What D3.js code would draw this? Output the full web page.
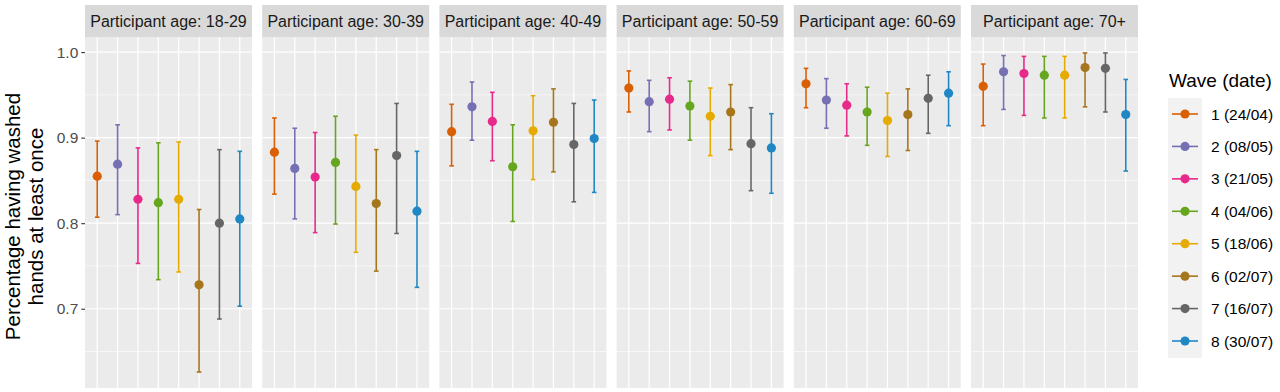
<!DOCTYPE html>
<html><head><meta charset="utf-8">
<script src="https://cdn.jsdelivr.net/npm/d3@7"></script>
<style>body{margin:0;background:#fff;}svg{display:block;font-family:"Liberation Sans",Arial,sans-serif;}</style>
</head><body>
<svg id="chart" width="1280" height="392"></svg>
<script>
const ageGroups = ["18-29","30-39","40-49","50-59","60-69","70+"];
const waves = ["1 (24/04)","2 (08/05)","3 (21/05)","4 (04/06)","5 (18/06)","6 (02/07)","7 (16/07)","8 (30/07)"];
const colors = ["#D95F02","#7570B3","#E7298A","#66A61E","#E6AB02","#A6761D","#666666","#1F87C3"];
const yTicks = [0.7,0.8,0.9,1.0];
// estimates per age group, one value per wave
const est = [
  [0.855,0.869,0.828,0.824,0.828,0.728,0.800,0.805],
  [0.883,0.864,0.854,0.871,0.843,0.823,0.879,0.814],
  [0.907,0.936,0.919,0.866,0.908,0.918,0.892,0.899],
  [0.958,0.942,0.945,0.937,0.925,0.930,0.893,0.888],
  [0.963,0.944,0.938,0.930,0.920,0.927,0.946,0.952],
  [0.960,0.977,0.975,0.973,0.973,0.982,0.981,0.927]
];
const lower = [
  [0.807,0.810,0.753,0.734,0.743,0.626,0.688,0.703],
  [0.834,0.805,0.789,0.799,0.766,0.744,0.788,0.725],
  [0.867,0.897,0.873,0.802,0.851,0.860,0.825,0.836],
  [0.930,0.907,0.909,0.897,0.879,0.886,0.838,0.835],
  [0.935,0.911,0.902,0.891,0.878,0.885,0.905,0.914],
  [0.914,0.933,0.926,0.923,0.923,0.936,0.930,0.861]
];
const upper = [
  [0.896,0.915,0.888,0.894,0.895,0.816,0.886,0.884],
  [0.923,0.911,0.906,0.925,0.903,0.886,0.940,0.884],
  [0.939,0.965,0.953,0.915,0.949,0.957,0.940,0.944],
  [0.978,0.967,0.970,0.966,0.958,0.962,0.935,0.928],
  [0.981,0.969,0.963,0.959,0.952,0.957,0.973,0.977],
  [0.986,0.996,0.995,0.995,0.995,0.999,0.999,0.968]
];

const svg = d3.select("#chart");
const panelTop = 37, panelBottom = 388, stripTop = 5;
const panelW = 167, panelStep = 177.2, firstX = 85;

const dataMin = d3.min(lower.flat()), dataMax = d3.max(upper.flat());
const pad = (dataMax - dataMin) * 0.05;
const y = d3.scaleLinear().domain([dataMin - pad, dataMax + pad]).range([panelBottom, panelTop]);
const minorTicks = [0.65,0.75,0.85,0.95];

const facetX = d3.scaleBand().domain(ageGroups).range([firstX, firstX + panelStep*6]).paddingInner(0);

ageGroups.forEach((ag, gi) => {
  const x0 = facetX(ag);
  const x = d3.scalePoint().domain(waves).range([x0, x0 + panelW]).padding(0.6);
  const g = svg.append("g");
  g.append("rect").attr("x", x0).attr("y", panelTop).attr("width", panelW).attr("height", panelBottom - panelTop).attr("fill", "#EBEBEB");
  // minor grid
  g.selectAll(".minor").data(minorTicks).join("line")
    .attr("x1", x0).attr("x2", x0 + panelW).attr("y1", d => y(d)).attr("y2", d => y(d))
    .attr("stroke", "#fff").attr("stroke-width", 0.6);
  g.selectAll(".major").data(yTicks).join("line")
    .attr("x1", x0).attr("x2", x0 + panelW).attr("y1", d => y(d)).attr("y2", d => y(d))
    .attr("stroke", "#fff").attr("stroke-width", 1.2);
  g.selectAll(".vmajor").data(waves).join("line")
    .attr("x1", d => x(d)).attr("x2", d => x(d)).attr("y1", panelTop).attr("y2", panelBottom)
    .attr("stroke", "#fff").attr("stroke-width", 1.2);
  // strip
  g.append("rect").attr("x", x0).attr("y", stripTop).attr("width", panelW).attr("height", panelTop - stripTop).attr("fill", "#D9D9D9");
  g.append("text").attr("x", x0 + panelW/2).attr("y", (stripTop + panelTop)/2 + 5.8).attr("text-anchor", "middle")
    .attr("font-size", 16).attr("fill", "#1A1A1A").text("Participant age: " + ag);
  // error bars
  waves.forEach((w, wi) => {
    const cx = x(w), col = colors[wi];
    const lo = lower[gi][wi], hi = upper[gi][wi], v = est[gi][wi];
    g.append("line").attr("x1", cx).attr("x2", cx).attr("y1", y(lo)).attr("y2", y(hi)).attr("stroke", col).attr("stroke-width", 1.6);
    [lo, hi].forEach(b => g.append("line").attr("x1", cx - 2.3).attr("x2", cx + 2.3).attr("y1", y(b)).attr("y2", y(b)).attr("stroke", col).attr("stroke-width", 1.6));
    g.append("circle").attr("cx", cx).attr("cy", y(v)).attr("r", 4.6).attr("fill", col);
  });
});

// y axis
const yAxis = d3.axisLeft(y).tickValues(yTicks).tickFormat(d3.format(".1f")).tickSize(3.7).tickPadding(3);
const ax = svg.append("g").attr("transform", `translate(${firstX},0)`).call(yAxis);
ax.select(".domain").remove();
ax.selectAll(".tick line").attr("stroke", "#333").attr("stroke-width", 1.1);
ax.selectAll(".tick text").attr("font-size", 15.5).attr("fill", "#4D4D4D").attr("font-family", "Liberation Sans, Arial, sans-serif");

// y label
const yl = svg.append("text").attr("transform", `translate(20,${(panelTop+panelBottom)/2 + 4}) rotate(-90)`)
  .attr("text-anchor", "middle").attr("font-size", 20.5).attr("fill", "#000");
yl.append("tspan").attr("x", 0).attr("dy", 0).text("Percentage having washed");
yl.append("tspan").attr("x", 0).attr("dy", 22.5).text("hands at least once");

// legend
const lg = svg.append("g");
lg.append("text").attr("x", 1169).attr("y", 87).attr("font-size", 19).attr("fill", "#000").text("Wave (date)");
const keyY = d3.scalePoint().domain(waves).range([114, 341]);
lg.append("rect").attr("x", 1168).attr("y", 98).attr("width", 34).attr("height", 260).attr("fill", "#F2F2F2");
waves.forEach((w, i) => {
  const ky = keyY(w);
  lg.append("line").attr("x1", 1172).attr("x2", 1198).attr("y1", ky).attr("y2", ky).attr("stroke", colors[i]).attr("stroke-width", 1.6);
  lg.append("circle").attr("cx", 1185).attr("cy", ky).attr("r", 4.6).attr("fill", colors[i]);
  lg.append("text").attr("x", 1211).attr("y", ky + 5.5).attr("font-size", 15.5).attr("fill", "#000").text(w);
});
</script>
</body></html>
